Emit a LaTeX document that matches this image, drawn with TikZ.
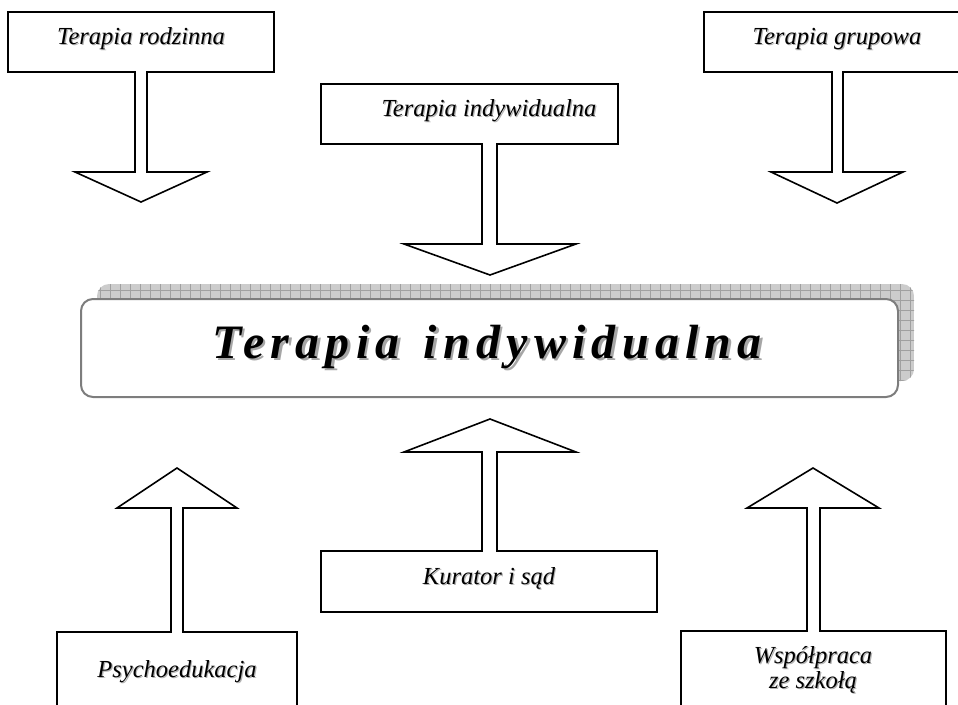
\documentclass[tikz,border=0pt]{standalone}
\usepackage{fontspec}
\setmainfont{Liberation Serif}
\newfontfamily\bigspaced[LetterSpace=13]{Liberation Serif}
\definecolor{shadowfill}{RGB}{204,204,204}
\definecolor{shadowgrid}{RGB}{160,160,160}
\definecolor{frame}{RGB}{125,125,125}
\begin{document}
\begin{tikzpicture}[x=1pt,y=-1pt]
\tikzset{
  callout/.style={draw=black, line width=1.6pt, fill=white, line join=miter},
  lbl/.style={font=\fontsize{24.5}{28}\selectfont\itshape, inner sep=0pt, anchor=base, text=black},
  lblsh/.style={lbl, text=black!30},
  bigtxt/.style={font=\bigspaced\fontsize{48}{52}\selectfont\bfseries\itshape, inner sep=0pt, anchor=base},
}
\useasboundingbox (0,0) rectangle (958,704);
\clip (0,0) rectangle (958,704);

% main box shadow with grid
\begin{scope}
  \clip[rounded corners=12pt] (97,284) rectangle (914,381);
  \fill[shadowfill] (97,284) rectangle (914,381);
  \draw[shadowgrid, line width=0.7pt, step=10pt] (90,280) grid (920,390);
\end{scope}
% main box
\draw[frame, line width=2pt, fill=white, rounded corners=12pt] (81,299) rectangle (898,397);
\node[bigtxt, text=black!35] (mainsh) at (489.5,360.5) {Terapia\hspace*{24pt}indywidualna};
\node[bigtxt] (main) at (487,358) {Terapia\hspace*{24pt}indywidualna};

% top-left callout
\draw[callout] (8,12) -- (274,12) -- (274,72) -- (147,72) -- (147,172) -- (207,172)
  -- (141,202) -- (75,172) -- (135,172) -- (135,72) -- (8,72) -- cycle;
\node[lblsh] (rodzsh) at (142.2,45.2) {Terapia rodzinna};
\node[lbl] (rodz) at (141,44) {Terapia rodzinna};

% top-right callout
\draw[callout] (704,12) -- (972,12) -- (972,72) -- (843,72) -- (843,172) -- (903,172)
  -- (837,203) -- (771,172) -- (832,172) -- (832,72) -- (704,72) -- cycle;
\node[lblsh] (grupsh) at (838.2,45.2) {Terapia grupowa};
\node[lbl] (grup) at (837,44) {Terapia grupowa};

% top-middle callout
\draw[callout] (321,84) -- (618,84) -- (618,144) -- (497,144) -- (497,244) -- (576,244)
  -- (490,275) -- (404,244) -- (482,244) -- (482,144) -- (321,144) -- cycle;
\node[lblsh] (indsh) at (490.2,117.2) {Terapia indywidualna};
\node[lbl] (ind) at (489,116) {Terapia indywidualna};

% bottom-middle callout
\draw[callout] (321,612) -- (657,612) -- (657,551) -- (497,551) -- (497,452) -- (576,452)
  -- (490,419) -- (404,452) -- (482,452) -- (482,551) -- (321,551) -- cycle;
\node[lblsh] (kursh) at (490.2,585.2) {Kurator i sąd};
\node[lbl] (kur) at (489,584) {Kurator i sąd};

% bottom-left callout
\draw[callout] (57,720) -- (297,720) -- (297,632) -- (183,632) -- (183,508) -- (237,508)
  -- (177,468) -- (117,508) -- (171,508) -- (171,632) -- (57,632) -- cycle;
\node[lblsh] (psysh) at (178.2,678.2) {Psychoedukacja};
\node[lbl] (psy) at (177,677) {Psychoedukacja};

% bottom-right callout
\draw[callout] (681,720) -- (946,720) -- (946,631) -- (820,631) -- (820,508) -- (879,508)
  -- (813,468) -- (747,508) -- (807,508) -- (807,631) -- (681,631) -- cycle;
\node[lblsh] (wsp1sh) at (814.2,664.2) {Współpraca};
\node[lbl] (wsp1) at (813,663) {Współpraca};
\node[lblsh] (wsp2sh) at (814.2,689.2) {ze szkołą};
\node[lbl] (wsp2) at (813,688) {ze szkołą};
\end{tikzpicture}
\end{document}
